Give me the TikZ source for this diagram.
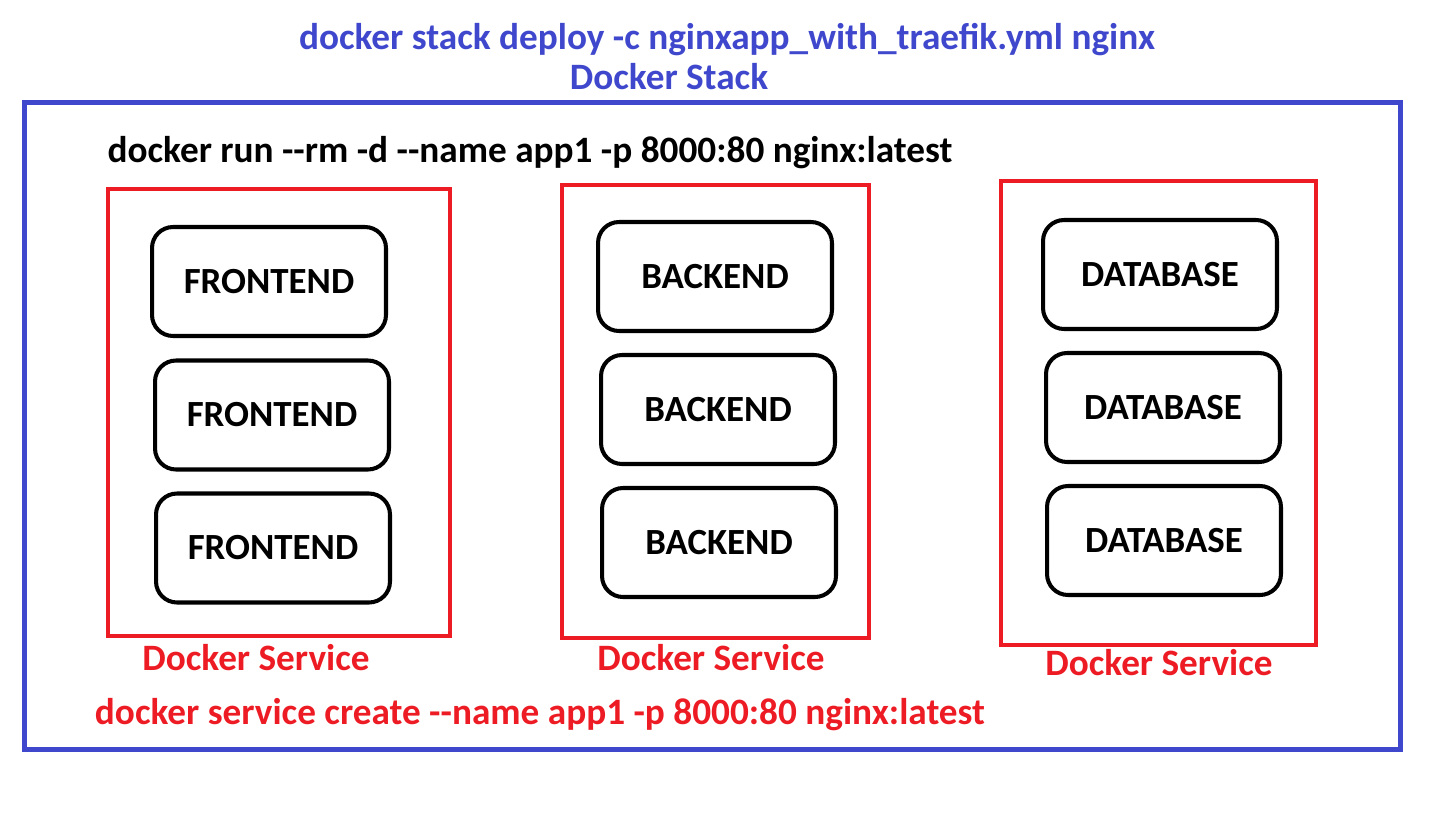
\documentclass[tikz,border=0pt]{standalone}
\usepackage{fontspec}
\setmainfont{Carlito}
\usepackage{xcolor}
\usepackage{tikz}
\usetikzlibrary{positioning}
\definecolor{stackcolor}{RGB}{63, 72, 204}
\definecolor{servicecolor}{RGB}{237, 28, 36}
\tikzstyle{stackbox} = [rectangle, draw=stackcolor, line width=2.85pt, minimum width=27.54cm, minimum height=12.96cm]
\tikzstyle{servicebox} = [rectangle, draw=servicecolor, line width=2.3pt]
\tikzstyle{container} = [rectangle, rounded corners=0.42cm, draw=black, line width=2.3pt, minimum width=4.68cm, minimum height=2.18cm, font=\fontsize{21}{24}\selectfont\bfseries, text centered]
\tikzstyle{caption} = [inner sep=0pt, font=\fontsize{21.2}{24}\selectfont\bfseries]

\begin{document}
\begin{tikzpicture}[x=0.02cm, y=-0.02cm]
    \useasboundingbox (0,0) rectangle (1454,822);

    % Stack
    \node[caption, text=stackcolor] (deploy) at (727,40) {docker stack deploy -c nginxapp\_with\_traefik.yml nginx};
    \node[caption, text=stackcolor] (stacklabel) at (669,77) {Docker Stack};
    \node[stackbox] (stack) at (712.5,426) {};

    \node[caption] (run) at (530,153) {docker run -{}-rm -d -{}-name app1 -p 8000:80 nginx:latest};

    % Services
    \node[servicebox, minimum width=6.84cm, minimum height=8.94cm] (front) at (279,412.5) {};
    \node[servicebox, minimum width=6.14cm, minimum height=9.06cm] (back) at (715.5,411.5) {};
    \node[servicebox, minimum width=6.30cm, minimum height=9.28cm] (db) at (1158.5,413) {};

    % Containers
    \node[container] (front1) at (269,281.5) {FRONTEND};
    \node[container] (front2) at (272,415) {FRONTEND};
    \node[container] (front3) at (273,548) {FRONTEND};
    \node[container] (back1) at (715,276.5) {BACKEND};
    \node[container] (back2) at (718,409.5) {BACKEND};
    \node[container] (back3) at (719,542.5) {BACKEND};
    \node[container] (db1) at (1160,274.5) {DATABASE};
    \node[container] (db2) at (1163,407.5) {DATABASE};
    \node[container] (db3) at (1164,540.5) {DATABASE};

    % Labels
    \node[caption, text=servicecolor] (frontlabel) at (256,658) {Docker Service};
    \node[caption, text=servicecolor] (backlabel) at (711,658) {Docker Service};
    \node[caption, text=servicecolor] (dblabel) at (1159,663) {Docker Service};
    \node[caption, text=servicecolor] (create) at (540,715) {docker service create -{}-name app1 -p 8000:80 nginx:latest};
\end{tikzpicture}
\end{document}
